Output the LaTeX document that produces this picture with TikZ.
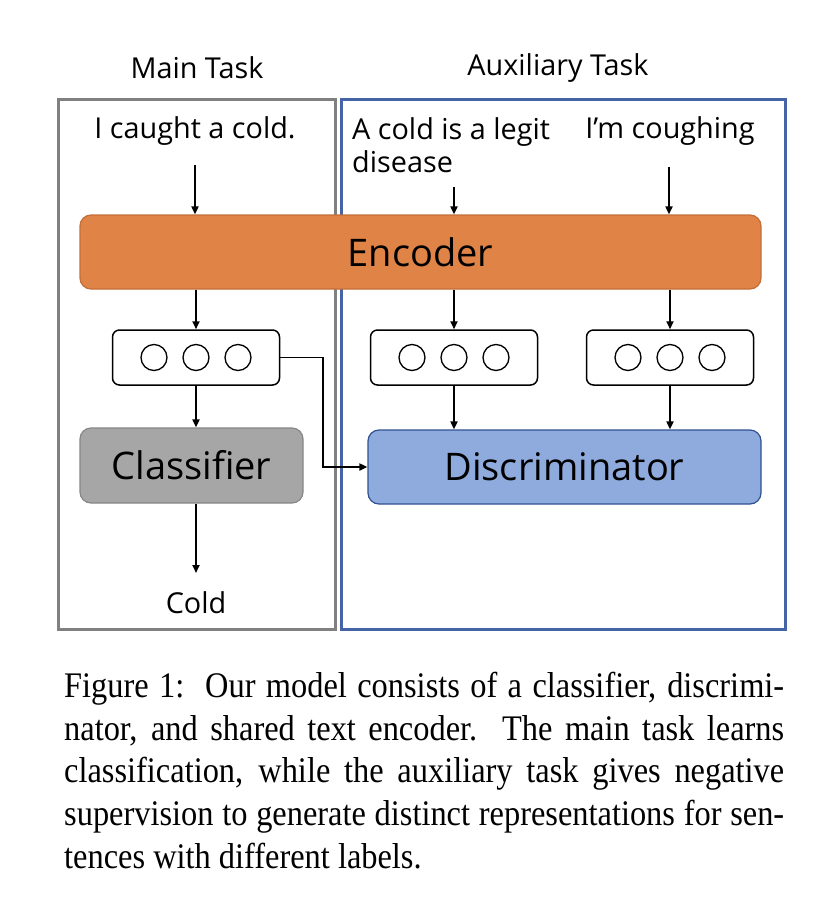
\documentclass[tikz,border=0pt]{standalone}
\usepackage{fontspec}
\setmainfont{Liberation Serif}
\newfontfamily\diafont{Open Sans}
\usetikzlibrary{arrows.meta,calc}
\definecolor{encfill}{RGB}{224,131,70}
\definecolor{encdraw}{RGB}{196,110,55}
\definecolor{clsfill}{RGB}{166,166,166}
\definecolor{clsdraw}{RGB}{135,135,135}
\definecolor{disfill}{RGB}{143,170,220}
\definecolor{disdraw}{RGB}{47,82,143}
\definecolor{mainframe}{RGB}{128,128,128}
\definecolor{auxframe}{RGB}{68,100,165}
\tikzset{
  frame/.style={draw, line width=2.5pt, minimum width=#1, inner sep=0pt, anchor=north west},
  bigbox/.style={rounded corners=11pt, line width=1.2pt, inner sep=0pt, font=\diafont\fontsize{38}{44}\selectfont},
  vecbox/.style={draw, rounded corners=7pt, line width=1.5pt, minimum width=167pt, minimum height=55pt, inner sep=0pt},
  unit/.style={draw, circle, line width=1.3pt, minimum size=26pt, inner sep=0pt},
  lbl/.style={font=\diafont\fontsize{28.8}{33}\selectfont, inner sep=0pt},
  arr/.style={-{Triangle[length=8pt,width=7pt]}, line width=1.8pt},
  capline/.style={anchor=base west, inner sep=0pt, font=\fontsize{36}{42}\selectfont}
}
\newcommand{\capfit}[1]{\scalebox{0.9}[1]{\makebox[800pt][s]{#1}}}
\begin{document}
\begin{tikzpicture}[x=1pt,y=-1pt]
\useasboundingbox[fill=white] (0,0) rectangle (828,900);
% frames
\node[frame=277pt, draw=mainframe, minimum height=530pt] (mainf) at (57,98) {};
\node[frame=444pt, draw=auxframe, minimum height=530pt] (auxf) at (340,98) {};
% titles
\node[lbl] (tmain) at (197,68) {Main Task};
\node[lbl] (taux) at (558,68) {Auxiliary Task};
% inputs
\node[lbl] (s1) at (195,131) {I caught a cold.};
\node[lbl, anchor=north west, align=left] (s2) at (352,117) {A cold is a legit\\disease};
\node[lbl] (s3) at (670,131) {I’m coughing};
% encoder
\node[bigbox, draw=encdraw, fill=encfill, minimum width=681pt, minimum height=74pt] (enc) at (420.5,252) {Encoder};
% input arrows
\coordinate (a1) at (195,165);
\coordinate (a2) at (454,187);
\coordinate (a3) at (669,167);
\draw[arr] (a1) -- (a1 |- enc.north);
\draw[arr] (a2) -- (a2 |- enc.north);
\draw[arr] (a3) -- (a3 |- enc.north);
% vector boxes
\node[vecbox] (v1) at (196,357.5) {};
\node[vecbox] (v2) at (454,357.5) {};
\node[vecbox] (v3) at (670,357.5) {};
\foreach \v in {v1,v2,v3}{
  \node[unit] (\v a) at ($(\v)+(-42,0)$) {};
  \node[unit] (\v b) at (\v) {};
  \node[unit] (\v c) at ($(\v)+(42,0)$) {};
}
\draw[arr] (enc.south -| v1) -- (v1.north);
\draw[arr] (enc.south -| v2) -- (v2.north);
\draw[arr] (enc.south -| v3) -- (v3.north);
% classifier and discriminator
\node[bigbox, draw=clsdraw, fill=clsfill, minimum width=223pt, minimum height=75pt] (cls) at (191.5,465.5) {Classifier};
\node[bigbox, draw=disdraw, fill=disfill, minimum width=393pt, minimum height=74pt] (dis) at (564.5,467) {Discriminator};
\draw[arr] (v1.south) -- (v1.south |- cls.north);
\draw[arr] (v2.south) -- (v2.south |- dis.north);
\draw[arr] (v3.south) -- (v3.south |- dis.north);
\draw[arr] (v1.east) -- ++(43,0) |- (dis.west);
% output
\node[lbl] (cold) at (196,603) {Cold};
\coordinate (c0) at (196,573);
\draw[arr] (cls.south -| v1) -- (c0);
% caption
\node[capline] (l1) at (64,697) {\capfit{Figure 1:\ \ Our model consists of a classifier, discrimi-}};
\node[capline] (l2) at (64,740) {\capfit{nator, and shared text encoder.\ \ The main task learns}};
\node[capline] (l3) at (64,782.5) {\capfit{classification, while the auxiliary task gives negative}};
\node[capline] (l4) at (64,825) {\capfit{supervision to generate distinct representations for sen-}};
\node[capline] (l5) at (64,868) {\scalebox{0.9}[1]{tences with different labels.}};
\end{tikzpicture}
\end{document}
